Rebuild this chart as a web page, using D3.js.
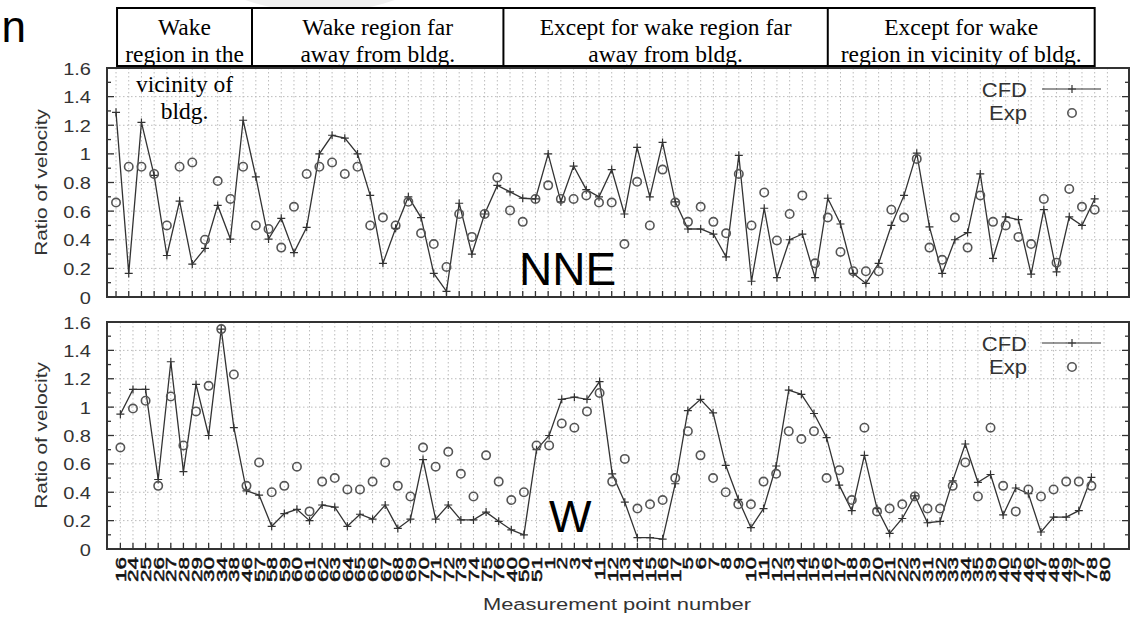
<!DOCTYPE html>
<html>
<head>
<meta charset="utf-8">
<script src="https://cdn.jsdelivr.net/npm/d3@7"></script>
<style>
  body { margin: 0; background: #fff; }
  svg { font-family: "Liberation Sans", Arial, sans-serif; }
</style>
</head>
<body>
<div id="chart"></div>
<script>

// measurement point labels, one per tick
const xLabels = ["16","24","25","26","27","28","29","30","34","38","46",
  "57","58","59","60","61","62","63","64","65","66","67","68","69","70","71","72","73","74","75","76",
  "40","50","51","1","2","3","4","11","12","13","14","15","16","17","5","6","7","8","9",
  "10","11","12","13","14","15","16","17","18","19","20","21","22","23","31","32","33","34","35","39",
  "40","45","46","47","48","49","77","78","80"]

const nneCfd = [1.29,0.165,1.22,0.85,0.29,0.67,0.23,0.34,0.64,0.405,1.235,0.84,0.405,0.55,0.31,0.487,
  1.0,1.13,1.11,1.0,0.71,0.235,0.48,0.70,0.555,0.165,0.04,0.655,0.30,0.58,0.78,0.735,0.69,0.685,1.0,
  0.665,0.915,0.75,0.70,0.89,0.58,1.045,0.70,1.08,0.665,0.475,0.475,0.44,0.28,0.99,0.11,0.62,0.135,
  0.40,0.44,0.135,0.69,0.51,0.165,0.095,0.235,0.50,0.71,1.005,0.49,0.165,0.40,0.45,0.86,0.27,0.56,
  0.54,0.16,0.61,0.175,0.56,0.50,0.685]
const nneExp = [0.66,0.91,0.91,0.86,0.50,0.91,0.94,0.40,0.81,0.685,0.91,0.50,0.475,0.345,0.63,0.86,
  0.91,0.94,0.86,0.91,0.50,0.555,0.50,0.665,0.445,0.37,0.21,0.58,0.42,0.58,0.835,0.605,0.525,0.685,
  0.78,0.685,0.685,0.71,0.66,0.66,0.37,0.805,0.50,0.89,0.66,0.525,0.63,0.525,0.445,0.86,0.50,0.73,
  0.395,0.58,0.71,0.235,0.555,0.315,0.18,0.18,0.18,0.61,0.555,0.965,0.345,0.26,0.555,0.345,0.71,
  0.525,0.50,0.42,0.37,0.685,0.24,0.755,0.63,0.61]

const wCfd = [0.95,1.125,1.125,0.49,1.32,0.545,1.16,0.80,1.55,0.855,0.41,0.38,0.16,0.25,0.28,0.20,
  0.31,0.295,0.16,0.245,0.21,0.31,0.145,0.21,0.63,0.21,0.31,0.205,0.205,0.26,0.195,0.135,0.10,0.70,
  0.80,1.055,1.07,1.055,1.18,0.53,0.33,0.08,0.08,0.07,0.46,0.975,1.055,0.96,0.59,0.35,0.15,0.285,
  0.585,1.12,1.09,0.955,0.785,0.45,0.27,0.66,0.285,0.11,0.215,0.375,0.185,0.195,0.48,0.74,0.47,
  0.525,0.24,0.43,0.39,0.12,0.225,0.225,0.27,0.505]
const wExp = [0.715,0.99,1.045,0.445,1.075,0.73,0.97,1.15,1.55,1.23,0.445,0.61,0.40,0.445,0.58,0.265,
  0.475,0.50,0.42,0.42,0.475,0.61,0.445,0.37,0.715,0.58,0.685,0.53,0.37,0.66,0.475,0.345,0.40,0.73,
  0.73,0.885,0.855,0.97,1.10,0.475,0.635,0.285,0.315,0.345,0.50,0.83,0.66,0.50,0.40,0.315,0.315,
  0.475,0.53,0.83,0.775,0.83,0.50,0.555,0.345,0.855,0.265,0.285,0.315,0.37,0.285,0.285,0.445,0.61,
  0.37,0.855,0.445,0.265,0.42,0.37,0.42,0.475,0.475,0.445]

const yTicks = [0, 0.2, 0.4, 0.6, 0.8, 1, 1.2, 1.4, 1.6]
const yMinor = [0.1, 0.3, 0.5, 0.7, 0.9, 1.1, 1.3, 1.5]

const sections = [
  ["Wake", "region in the", "vicinity of", "bldg."],
  ["Wake region far", "away from bldg."],
  ["Except for wake region far", "away from bldg."],
  ["Except for wake", "region in vicinity of bldg."]
]
// section edges, in measurement-point index units
const sectionEdges = [0.08, 10.7, 30.48, 56.0, 77.0]

const W = 1132, H = 622
const left = 107, right = 1129
const ink = "#333"

const svg = d3.select("#chart")
    .append("svg")
    .attr("width", W)
    .attr("height", H)

svg.append("rect").attr("width", W).attr("height", H).attr("fill", "#fff")

// faint blob and cut letter at the top of the scan
svg.append("ellipse")
    .attr("cx", 320).attr("cy", -38).attr("rx", 115).attr("ry", 50)
    .attr("fill", "#f0f0f0")
svg.append("text")
    .attr("x", 26).attr("y", 42)
    .attr("text-anchor", "end")
    .attr("font-size", 44)
    .attr("fill", "#000")
    .text("n")

// wide text helper: the scan's sans font is wider than Arial
function wide(sel, x, y, sx, rot) {
    sel.attr("transform", `translate(${x},${y})` + (rot ? ` rotate(${rot})` : "") + ` scale(${sx},1)`)
    return sel
}

function drawPanel(cfd, exp, o) {
    const g = svg.append("g")

    const x = d3.scaleLinear().domain(o.xDomain).range([left, right])
    const y = d3.scaleLinear().domain([0, 1.6]).range([o.bottom, o.top])
    const idx = d3.range(xLabels.length)

    // grid
    g.append("g").selectAll("line")
        .data(yTicks.slice(1, -1))
        .join("line")
        .attr("x1", left).attr("x2", right)
        .attr("y1", d => y(d)).attr("y2", d => y(d))
        .attr("stroke", "#bbb").attr("stroke-width", 1)
        .attr("stroke-dasharray", "1.5,2.5")
    g.append("g").selectAll("line")
        .data(idx)
        .join("line")
        .attr("x1", d => x(d)).attr("x2", d => x(d))
        .attr("y1", o.top).attr("y2", o.bottom)
        .attr("stroke", "#bbb").attr("stroke-width", 1)
        .attr("stroke-dasharray", "1.5,2.5")

    // ticks, pointing inward
    g.append("g").selectAll("line")
        .data(idx)
        .join("line")
        .attr("x1", d => x(d)).attr("x2", d => x(d))
        .attr("y1", o.bottom).attr("y2", o.bottom - 6)
        .attr("stroke", ink).attr("stroke-width", 1.3)
    for (const side of [left, right]) {
        const dir = side === left ? 1 : -1
        g.append("g").selectAll("line")
            .data(yTicks.concat(yMinor))
            .join("line")
            .attr("x1", side).attr("x2", d => side + dir * (yMinor.includes(d) ? 4 : 7))
            .attr("y1", d => y(d)).attr("y2", d => y(d))
            .attr("stroke", ink).attr("stroke-width", 1.3)
    }

    // border
    g.append("rect")
        .attr("x", left).attr("y", o.top)
        .attr("width", right - left).attr("height", o.bottom - o.top)
        .attr("fill", "none").attr("stroke", ink).attr("stroke-width", 2)

    // y tick labels
    g.append("g").selectAll("text")
        .data(yTicks)
        .join("text")
        .each(function(d) { wide(d3.select(this), 91, y(d) + 6.5, 1.25) })
        .attr("text-anchor", "end")
        .attr("font-size", 16)
        .attr("fill", ink)
        .text(d => d === 1 || d === 0 ? String(d) : d.toFixed(1))

    // y title
    wide(g.append("text"), 47, (o.top + o.bottom) / 2, 1.3, -90)
        .attr("text-anchor", "middle")
        .attr("font-size", 16)
        .attr("fill", ink)
        .text("Ratio of velocity")

    // CFD line with + markers
    const line = d3.line().x((d, i) => x(i)).y(d => y(d))
    g.append("path")
        .datum(cfd)
        .attr("d", line)
        .attr("fill", "none")
        .attr("stroke", ink)
        .attr("stroke-width", 1.3)
    g.append("g").selectAll("path")
        .data(cfd)
        .join("path")
        .attr("d", (d, i) => `M${x(i) - 4},${y(d)}h8M${x(i)},${y(d) - 4}v8`)
        .attr("stroke", ink).attr("stroke-width", 1.2)

    // Exp circles
    g.append("g").selectAll("circle")
        .data(exp)
        .join("circle")
        .attr("cx", (d, i) => x(i))
        .attr("cy", d => y(d))
        .attr("r", 4.2)
        .attr("fill", "none")
        .attr("stroke", "#555")
        .attr("stroke-width", 1.6)

    // legend
    const ly = o.top + 21
    wide(g.append("text"), 1027, ly + 7.5, 1.1)
        .attr("text-anchor", "end").attr("font-size", 20).attr("fill", ink).text("CFD")
    g.append("line")
        .attr("x1", 1042).attr("x2", 1101).attr("y1", ly).attr("y2", ly)
        .attr("stroke", ink).attr("stroke-width", 1.2)
    g.append("path")
        .attr("d", `M1068,${ly}h8M1072,${ly - 4}v8`)
        .attr("stroke", ink).attr("stroke-width", 1.2)
    wide(g.append("text"), 1027, ly + 31, 1.1)
        .attr("text-anchor", "end").attr("font-size", 20).attr("fill", ink).text("Exp")
    g.append("circle")
        .attr("cx", 1072).attr("cy", ly + 24).attr("r", 4.2)
        .attr("fill", "none").attr("stroke", "#555").attr("stroke-width", 1.6)

    // wind direction label
    g.append("text")
        .attr("x", o.labelX).attr("y", o.labelY)
        .attr("font-size", o.labelSize)
        .attr("fill", "#000")
        .text(o.label)

    return x
}

const xTop = drawPanel(nneCfd, nneExp, {
    top: 68, bottom: 297, xDomain: [-0.71, 79.7],
    label: "NNE", labelX: 519, labelY: 285, labelSize: 46
})
const xBottom = drawPanel(wCfd, wExp, {
    top: 322, bottom: 549, xDomain: [-1.06, 79.98],
    label: "W", labelX: 549, labelY: 532, labelSize: 45
})

// x tick labels, rotated; they crowd into each other as in the scan
svg.append("g").selectAll("text")
    .data(xLabels)
    .join("text")
    .each(function(d, i) { wide(d3.select(this), xBottom(i) + 5.5, 557, 1.45, -90) })
    .attr("text-anchor", "end")
    .attr("font-size", 15.5)
    .attr("fill", "#111")
    .attr("stroke", "#111")
    .attr("stroke-width", 0.5)
    .text(d => d)

wide(svg.append("text"), 617, 610, 1.33)
    .attr("text-anchor", "middle")
    .attr("font-size", 16.5)
    .attr("fill", ink)
    .text("Measurement point number")

// section header boxes
const hdr = svg.append("g")
hdr.append("rect")
    .attr("x", xTop(sectionEdges[0])).attr("y", 8)
    .attr("width", xTop(sectionEdges[4]) - xTop(sectionEdges[0])).attr("height", 58)
    .attr("fill", "#fff").attr("stroke", "#000").attr("stroke-width", 2)
hdr.selectAll("line.div")
    .data(sectionEdges.slice(1, -1))
    .join("line")
    .attr("x1", d => xTop(d)).attr("x2", d => xTop(d))
    .attr("y1", 8).attr("y2", 66)
    .attr("stroke", "#000").attr("stroke-width", 2)

const lineY = [35, 62, 92, 119]
sections.forEach((lines, s) => {
    const cx = (xTop(sectionEdges[s]) + xTop(sectionEdges[s + 1])) / 2
    hdr.append("g").selectAll("text")
        .data(lines)
        .join("text")
        .attr("x", cx)
        .attr("y", (d, i) => lineY[i])
        .attr("text-anchor", "middle")
        .style("font-family", "'Liberation Serif', 'Times New Roman', serif")
        .attr("font-size", 23.5)
        .attr("fill", "#000")
        .text(d => d)
})
</script>
</body>
</html>
